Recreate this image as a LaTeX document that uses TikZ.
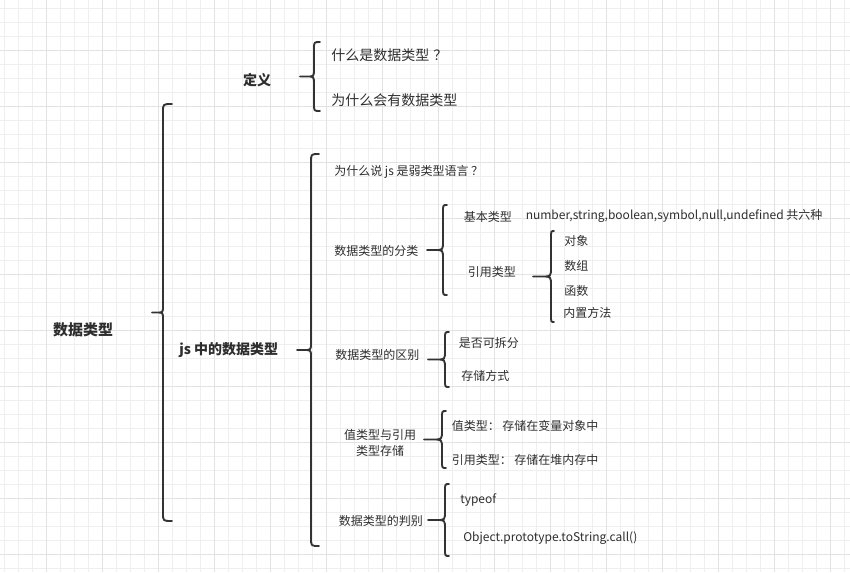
\documentclass[tikz,border=0pt]{standalone}
\usepackage{fontspec}
\setmainfont{Noto Sans CJK SC}
\definecolor{minorgrid}{HTML}{EFEFEF}
\definecolor{majorgrid}{HTML}{E2E2E2}
\definecolor{ink}{HTML}{333333}
\definecolor{txt}{HTML}{2E2E2E}
\tikzset{
  bracestyle/.style={draw=ink, line width=1.4pt, line join=round, line cap=round},
  small/.style={font=\fontsize{9}{11}\selectfont, text=txt, inner sep=0pt},
  mid/.style={font=\fontsize{10.5}{12}\selectfont, text=txt, inner sep=0pt},
  head/.style={font=\fontsize{10.5}{12}\selectfont\bfseries, text=txt, inner sep=0pt},
  bighead/.style={font=\fontsize{11.25}{13}\selectfont\bfseries, text=txt, inner sep=0pt},
}
% #1 x of the vertical, #2 top y, #3 bottom y, #4 tip x, #5 hook end x, #6 end radius, #7 tip radius
\newcommand\mybrace[7]{%
  \pgfmathsetmacro\bym{(#2+#3)/2}%
  \pgfmathsetmacro\bxh{(#1+#4)/2}%
  \draw[bracestyle] (#5,#2) .. controls (#1,#2) .. (#1,{#2+#6})
    -- (#1,{\bym-#7}) .. controls (#1,\bym) .. (\bxh,\bym) -- (#4,\bym)
    -- (\bxh,\bym) .. controls (#1,\bym) .. (#1,{\bym+#7})
    -- (#1,{#3-#6}) .. controls (#1,#3) .. (#5,#3);
}
\begin{document}
\begin{tikzpicture}[x=0.75pt,y=-0.75pt]
\useasboundingbox (0,0) rectangle (850,572);
\fill[white] (0,0) rectangle (850,572);
% grid
\foreach \i in {0,...,60} {\draw[minorgrid, line width=0.75pt] ({4.3+14*\i},0) -- ({4.3+14*\i},572);}
\foreach \i in {0,...,40} {\draw[minorgrid, line width=0.75pt] (0,{8.5+14*\i}) -- (850,{8.5+14*\i});}
\foreach \i in {0,...,14} {\draw[majorgrid, line width=0.75pt] ({46.3+56*\i},0) -- ({46.3+56*\i},572);}
\foreach \i in {0,...,9} {\draw[majorgrid, line width=0.75pt] (0,{50.5+56*\i}) -- (850,{50.5+56*\i});}

% braces
\mybrace{163}{104}{521}{152}{172}{8}{7}
\mybrace{314}{42}{111}{300}{320}{7}{8}
\mybrace{311}{154}{546}{297}{319}{8}{7}
\mybrace{443}{205}{295}{427}{447}{7}{9}
\mybrace{551}{231}{322}{533}{554}{7}{9}
\mybrace{445}{332}{387}{428}{449}{7}{9}
\mybrace{442}{411}{468}{424}{446}{7}{9}
\mybrace{445}{484}{556}{428}{449}{7}{9}

% texts
\node[bighead] (root) at (83,330) {数据类型};
\node[head] (def) at (257,80) {定义};
\node[head, anchor=west] (js) at (179,350) {js 中的数据类型};

\node[mid, anchor=west] (what) at (331,55) {什么是数据类型\hspace{3pt}？};
\node[mid, anchor=west] (why) at (331,100) {为什么会有数据类型};

\node[small, anchor=west] (weak) at (334,172) {为什么说 js 是弱类型语言\hspace{2pt}？};
\node[small, anchor=west] (cls) at (334,251) {数据类型的分类};
\node[small, anchor=west] (basic) at (463.5,217) {基本类型};
\node[small, anchor=west] (basiclist) at (525.5,216) {number,string,boolean,symbol,null,undefined 共六种};
\node[small, anchor=west] (ref) at (467.5,272) {引用类型};
\node[small, anchor=west] (obj) at (564,241) {对象};
\node[small, anchor=west] (arr) at (564,266) {数组};
\node[small, anchor=west] (fun) at (564,291) {函数};
\node[small, anchor=west] (builtin) at (563,312.5) {内置方法};

\node[small, anchor=west] (diff) at (335,354.5) {数据类型的区别};
\node[small, anchor=west] (split) at (458.5,342.5) {是否可拆分};
\node[small, anchor=west] (store) at (461,376) {存储方式};

\node[small, align=center] (vstore) at (380,442.5) {值类型与引用\\[1pt]类型存储};
\node[small, anchor=west] (val) at (451.5,426) {值类型： 存储在变量对象中};
\node[small, anchor=west] (refv) at (451.5,459.5) {引用类型： 存储在堆内存中};

\node[small, anchor=west] (judge) at (338.5,521) {数据类型的判别};
\node[small, anchor=west] (typeof) at (460,500.5) {typeof};
\node[small, anchor=west] (tostr) at (463,538.5) {Object.prototype.toString.call()};
\end{tikzpicture}
\end{document}
